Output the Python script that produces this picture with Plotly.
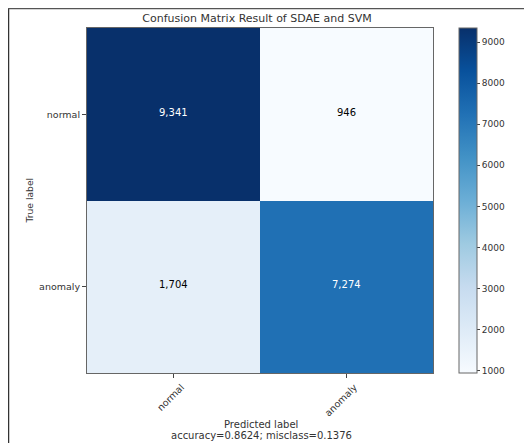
import plotly.graph_objects as go

labels = ["normal", "anomaly"]
matrix = [[9341, 946], [1704, 7274]]
cb_ticks = [1000, 2000, 3000, 4000, 5000, 6000, 7000, 8000, 9000]
accuracy = 0.8624
misclass = 0.1376

blues = ["#f7fbff", "#deebf7", "#c6dbef", "#9ecae1", "#6baed6",
         "#4292c6", "#2171b5", "#08519c", "#08306b"]
cscale = [[i / (len(blues) - 1), c] for i, c in enumerate(blues)]

# page body has an 8px margin; work in page pixels and convert
OFF = 8
W, H = 532 - OFF, 443 - OFF
L, R, T, B = 87, 433, 28, 373  # plot area in page pixels
pw, ph = R - L, B - T

def px_x(x):
    return (x - L) / pw

def px_y(y):
    return (B - y) / ph

zmin = min(min(r) for r in matrix)
zmax = max(max(r) for r in matrix)
thresh = (zmin + zmax) / 2

font = "DejaVu Sans"
txt = "#333"
fig = go.Figure(go.Heatmap(
    z=matrix, x=labels, y=labels, colorscale=cscale, zmin=zmin, zmax=zmax,
    xgap=0, ygap=0,
    colorbar=dict(
        x=px_x(458.5), xanchor="left", y=0, yanchor="bottom", len=1, lenmode="fraction",
        thickness=18, thicknessmode="pixels", outlinewidth=1, outlinecolor="#666",
        tickvals=cb_ticks, ticks="outside", ticklen=3, tickcolor="#444",
        tickfont=dict(family=font, size=9, color=txt), xpad=0, ypad=0,
    ),
))

for i, row in enumerate(matrix):
    for j, v in enumerate(row):
        fig.add_annotation(x=labels[j], y=labels[i], text=f"{v:,}", showarrow=False,
                           yshift=2,
                           font=dict(family=font, size=10,
                                     color="white" if v > thresh else "black"))

fig.add_annotation(xref="paper", yref="paper", x=px_x(261), y=px_y(424),
                   xanchor="center", yanchor="middle", text="Predicted label",
                   showarrow=False, font=dict(family=font, size=10, color=txt))
fig.add_annotation(xref="paper", yref="paper", x=px_x(261), y=px_y(435),
                   xanchor="center", yanchor="middle",
                   text="accuracy=%.4f; misclass=%.4f" % (accuracy, misclass),
                   showarrow=False, font=dict(family=font, size=10, color=txt))
fig.add_annotation(xref="paper", yref="paper", x=px_x(28.5), y=px_y(200),
                   xanchor="center", yanchor="middle",
                   text="True label", textangle=-90, showarrow=False,
                   font=dict(family=font, size=9.2, color=txt))

fig.add_shape(type="line", xref="paper", yref="paper", x0=px_x(8.5), x1=px_x(8.5),
              y0=px_y(8), y1=px_y(443), line=dict(color="#333", width=1.5))
fig.add_shape(type="line", xref="paper", yref="paper", x0=px_x(8), x1=px_x(532),
              y0=px_y(8.5), y1=px_y(8.5), line=dict(color="#555", width=1.5))

fig.update_layout(
    width=W, height=H,
    margin=dict(l=L - OFF, r=532 - R, t=T - OFF, b=443 - B),
    paper_bgcolor="white", plot_bgcolor="white",
    title=dict(text="Confusion Matrix Result of SDAE and SVM", x=px_x(257), xanchor="center",
               y=1 - (18 - OFF) / H, yanchor="middle", xref="paper",
               font=dict(family=font, size=11, color=txt)),
    xaxis=dict(tickangle=-45, ticks="outside", ticklen=4, tickcolor="#444",
               showline=True, linecolor="#666", mirror=True, showgrid=False,
               ticklabelshift=8,
               tickfont=dict(family=font, size=9.5, color=txt)),
    yaxis=dict(autorange="reversed", ticks="outside", ticklen=4, tickcolor="#444",
               showline=True, linecolor="#666", mirror=True, showgrid=False,
               tickfont=dict(family=font, size=9.5, color=txt)),
)

fig.write_html("out.html")
